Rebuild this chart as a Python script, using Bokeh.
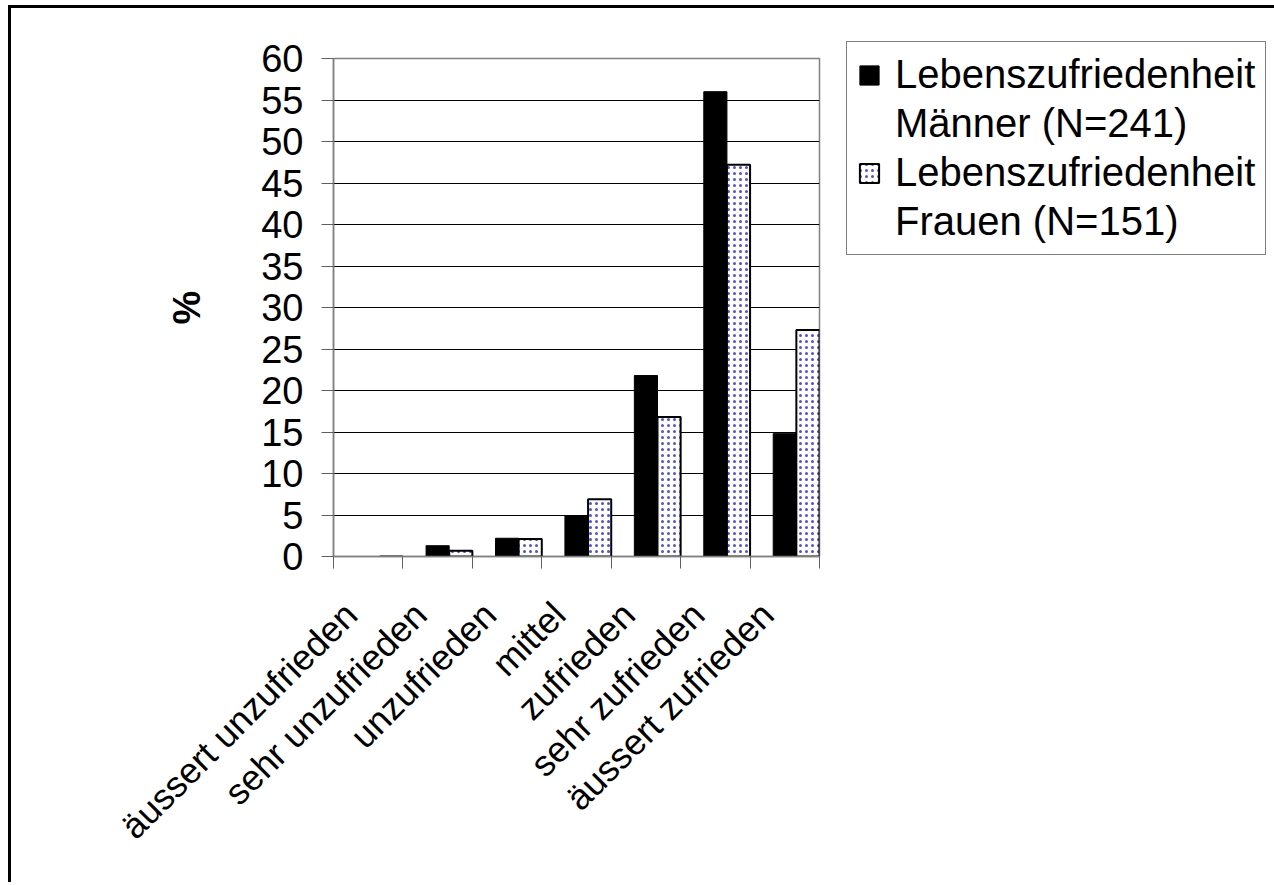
import math
from bokeh.plotting import figure
from bokeh.models import (ColumnDataSource, FixedTicker, Legend, LegendItem,
                          Range1d)
from bokeh.embed import file_html
from bokeh.resources import INLINE

categories = ["äussert unzufrieden", "sehr unzufrieden", "unzufrieden",
              "mittel", "zufrieden", "sehr zufrieden", "äussert zufrieden"]
maenner = [0.0, 1.3, 2.2, 4.9, 21.8, 56.0, 14.8]
frauen = [0.0, 0.7, 2.1, 6.9, 16.8, 47.2, 27.3]
series_lines = [["Lebenszufriedenheit", "Männer (N=241)"],
                ["Lebenszufriedenheit", "Frauen (N=151)"]]
y_ticks = list(range(0, 61, 5))

FONT = "Liberation Sans"

idx = list(range(len(categories)))
src = ColumnDataSource(dict(
    xm=[i + 0.5 for i in idx],
    xf=[i + 5.0 / 6.0 for i in idx],
    m=maenner,
    f=frauen,
))

p = figure(frame_width=486, frame_height=498,
           min_border_left=322, min_border_top=50,
           min_border_right=451, min_border_bottom=326,
           x_range=Range1d(0, len(categories)), y_range=Range1d(0, 60),
           output_backend="svg", toolbar_location=None,
           background_fill_color="white", border_fill_color="white",
           styles={"margin-left": "8px", "margin-top": "5px",
                   "border-left": "3px solid black",
                   "border-top": "3px solid black",
                   "border-right": "3px solid black"})

rm = p.vbar(x="xm", top="m", width=1.0 / 3.0, bottom=0, source=src,
            fill_color="black", line_color="black", line_width=1)
rf = p.vbar(x="xf", top="f", width=1.0 / 3.0, bottom=0, source=src,
            fill_color="white", line_color="black", line_width=2,
            hatch_pattern="dot", hatch_color="#5050e0", hatch_scale=6,
            hatch_weight=1.6)
# empty renderer used for the second line of each legend entry (no glyph)
blank = p.vbar(x=[], top=[], width=0.1, fill_color=None, line_color=None)

# grid
p.xgrid.visible = False
p.ygrid.ticker = FixedTicker(ticks=y_ticks)
p.ygrid.grid_line_color = "black"
p.ygrid.grid_line_width = 1
p.outline_line_color = "#808080"
p.outline_line_width = 1.5

# y axis
ya = p.yaxis[0]
ya.ticker = FixedTicker(ticks=y_ticks)
ya.axis_line_color = "#808080"
ya.axis_line_width = 1.5
ya.major_tick_line_color = "#606060"
ya.major_tick_out = 12
ya.major_tick_in = 0
ya.minor_tick_line_color = None
ya.major_label_text_font = FONT
ya.major_label_text_font_size = "38px"
ya.major_label_text_color = "black"
ya.major_label_standoff = 18
ya.axis_label = "%"
ya.axis_label_text_font = FONT
ya.axis_label_text_font_size = "38px"
ya.axis_label_text_font_style = "bold"
ya.axis_label_text_color = "black"
ya.axis_label_standoff = 50

# x axis
label_pos = [i + 0.25 for i in idx]
xa = p.xaxis[0]
xa.ticker = FixedTicker(ticks=label_pos,
                        minor_ticks=list(range(len(categories) + 1)))
xa.major_label_overrides = {pos: c for pos, c in zip(label_pos, categories)}
xa.axis_line_color = "#808080"
xa.axis_line_width = 1.5
xa.major_tick_out = 0
xa.major_tick_in = 0
xa.minor_tick_out = 12
xa.minor_tick_in = 0
xa.minor_tick_line_color = "#606060"
xa.major_label_orientation = math.pi / 4
xa.major_label_text_font = FONT
xa.major_label_text_font_size = "36px"
xa.major_label_text_color = "black"
xa.major_label_standoff = 40

items = []
for lines, r in zip(series_lines, [rm, rf]):
    items.append(LegendItem(label=lines[0], renderers=[r]))
    items.append(LegendItem(label=lines[1], renderers=[blank]))

legend = Legend(items=items, location=(27, 301))
legend.margin = 0
legend.label_text_font = FONT
legend.label_text_font_size = "40px"
legend.label_text_color = "black"
legend.glyph_width = 24
legend.glyph_height = 24
legend.label_standoff = 14
legend.padding = 10
legend.spacing = 4
legend.border_line_color = "black"
legend.border_line_width = 1
legend.background_fill_color = "white"
legend.background_fill_alpha = 1
p.add_layout(legend, "right")

open("out.html", "w").write(file_html(p, INLINE))
